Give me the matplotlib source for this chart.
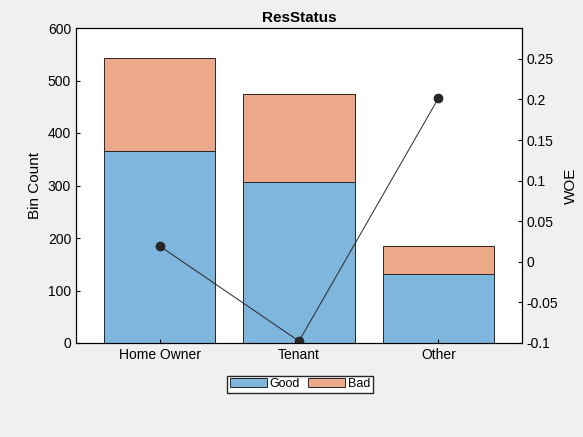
import matplotlib.pyplot as plt
import numpy as np

categories = ["Home Owner", "Tenant", "Other"]
good = [365, 307, 131]
bad = [177, 167, 53]
woe = [0.0195, -0.0977, 0.2015]

plt.rcParams["font.family"] = "Liberation Sans"
fig = plt.figure(figsize=(5.83, 4.37), dpi=100)
fig.patch.set_facecolor("#f0f0f0")
ax = fig.add_axes([76 / 583, 1 - 343 / 437, 446 / 583, 315 / 437])

x = np.arange(1, len(categories) + 1)
b1 = ax.bar(x, good, width=0.8, color="#7fb6dd", edgecolor="#262626", linewidth=0.7, label="Good")
b2 = ax.bar(x, bad, bottom=good, width=0.8, color="#eba98a", edgecolor="#262626", linewidth=0.7, label="Bad")
ax.set_xlim(0.4, 3.6)
ax.set_ylim(0, 600)
ax.set_xticks(x)
ax.set_xticklabels(categories)
ax.set_ylabel("Bin Count", fontsize=11)
ax.set_title("ResStatus", fontsize=11, fontweight="bold", pad=4)
ax.tick_params(labelsize=10, direction="in", length=3)

ax2 = ax.twinx()
ax2.plot(x, woe, color="#262626", linewidth=0.7, marker="o", markersize=6)
ax2.set_ylim(-0.1, 0.288)
ax2.set_yticks([-0.1, -0.05, 0, 0.05, 0.1, 0.15, 0.2, 0.25])
ax2.set_yticklabels(["-0.1", "-0.05", "0", "0.05", "0.1", "0.15", "0.2", "0.25"])
ax2.set_ylabel("WOE", fontsize=11)
ax2.tick_params(labelsize=10, direction="in", length=3)

fig.legend(handles=[b1, b2], loc="center", bbox_to_anchor=(300 / 583, 1 - 384 / 437), ncol=2,
           fontsize=9, fancybox=False, edgecolor="#262626", handlelength=3, handletextpad=0.2,
           columnspacing=0.6, borderpad=0.2, framealpha=1)

fig.savefig("out.png", dpi=100, facecolor=fig.get_facecolor())
